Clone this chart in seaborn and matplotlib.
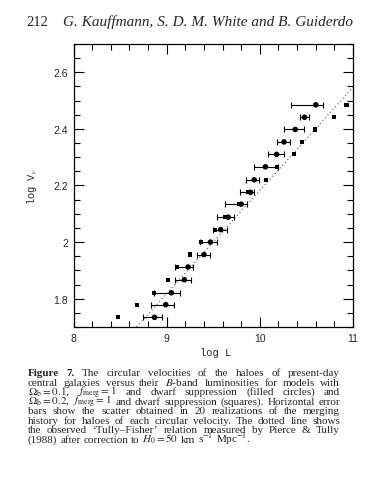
import numpy as np
import matplotlib
matplotlib.use("Agg")
import matplotlib.pyplot as plt
from matplotlib.transforms import IdentityTransform
from matplotlib.ticker import MultipleLocator, FuncFormatter
import seaborn as sns
import pandas as pd

# ---------------- data ----------------
log_vc = [1.734, 1.779, 1.821, 1.867, 1.912, 1.956, 2.000, 2.044, 2.088,
          2.134, 2.176, 2.220, 2.266, 2.310, 2.354, 2.398, 2.441, 2.485]
# filled circles: Omega_b = 0.1
circ_logL = [8.87, 8.99, 9.05, 9.19, 9.23, 9.40, 9.47, 9.58, 9.66,
             9.80, 9.90, 9.94, 10.06, 10.18, 10.26, 10.38, 10.48, 10.60]
circ_lo = [8.75, 8.83, 8.86, 9.09, 9.09, 9.33, 9.36, 9.50, 9.54,
           9.63, 9.79, 9.85, 9.94, 10.09, 10.18, 10.26, 10.43, 10.33]
circ_hi = [8.95, 9.08, 9.14, 9.26, 9.28, 9.46, 9.54, 9.65, 9.72,
           9.86, 9.94, 9.99, 10.20, 10.26, 10.32, 10.47, 10.53, 10.68]
# squares: Omega_b = 0.2
sq_logL = [8.48, 8.68, 8.86, 9.01, 9.11, 9.25, 9.37, 9.52, 9.63,
           9.78, 9.87, 10.07, 10.18, 10.37, 10.45, 10.59, 10.80, 10.93]
# Tully-Fisher relation (dotted line) end points
tf_logL = [8.677, 11.0]
tf_logV = [1.700, 2.547]

x_ticks = [8, 9, 10, 11]
y_ticks = [1.8, 2.0, 2.2, 2.4, 2.6]

# ---------------- style ----------------
sns.set_style("ticks")
plt.rcParams['font.family'] = ['Liberation Serif', 'DejaVu Serif']
plt.rcParams['mathtext.fontset'] = 'stix'

W, H = 367, 489
fig = plt.figure(figsize=(W / 100, H / 100), dpi=100)
fig.patch.set_facecolor('white')

ax_l, ax_r, ax_t, ax_b = 73.5, 353.0, 45.0, 328.0
ax = fig.add_axes([ax_l / W, 1 - ax_b / H, (ax_r - ax_l) / W, (ax_b - ax_t) / H])
ax.set_facecolor('white')

df_c = pd.DataFrame({'logL': circ_logL, 'logV': log_vc})
df_s = pd.DataFrame({'logL': sq_logL, 'logV': log_vc})
df_tf = pd.DataFrame({'logL': tf_logL, 'logV': tf_logV})

sns.lineplot(data=df_tf, x='logL', y='logV', ax=ax, color='0.45',
             linestyle=(0, (1, 2)), linewidth=0.9, sort=False)
cl = np.array(circ_logL)
ax.errorbar(cl, log_vc, xerr=[cl - np.array(circ_lo), np.array(circ_hi) - cl],
            fmt='none', ecolor='black', elinewidth=0.8, capsize=2.4,
            capthick=0.8, zorder=3)
sns.scatterplot(data=df_c, x='logL', y='logV', ax=ax, marker='o', s=16,
                color='black', edgecolor='none', zorder=4)
sns.scatterplot(data=df_s, x='logL', y='logV', ax=ax, marker='s', s=9,
                color='black', edgecolor='none', zorder=4)

ax.set_xlim(8, 11)
ax.set_ylim(1.7, 2.7)
ax.set_xticks(x_ticks)
ax.set_yticks(y_ticks)
ax.xaxis.set_minor_locator(MultipleLocator(0.2))
ax.yaxis.set_minor_locator(MultipleLocator(0.05))
ax.xaxis.set_major_formatter(FuncFormatter(lambda v, p: '%g' % v))
ax.yaxis.set_major_formatter(FuncFormatter(lambda v, p: '%g' % v))
ax.tick_params(which='both', direction='in', top=True, right=True,
               color='black', width=0.8)
ax.tick_params(which='major', length=7.5, pad=4)
ax.tick_params(which='minor', length=4)
for lab in ax.get_xticklabels() + ax.get_yticklabels():
    lab.set_family(['Liberation Sans', 'DejaVu Sans'])
    lab.set_fontsize(7.5)
for s in ax.spines.values():
    s.set_color('black')
    s.set_linewidth(0.9)

ax.set_xlabel('log L', family=['Liberation Mono', 'DejaVu Sans Mono'], fontsize=7.5)
ax.set_ylabel('log V$_{\\mathrm{c}}$', family=['Liberation Mono', 'DejaVu Sans Mono'], fontsize=7.5)
ax.xaxis.set_label_coords(0.51, -0.09)
ax.xaxis.label.set_verticalalignment('center')
ax.yaxis.set_label_coords(-0.15, 0.5)
ax.yaxis.label.set_verticalalignment('center')

# ---------------- header ----------------
ident = IdentityTransform()
fig.text(26, H - 26, '212', transform=ident, fontsize=10.5,
         family='Liberation Serif', va='baseline', ha='left')
fig.text(63, H - 26, 'G. Kauffmann, S. D. M. White and B. Guiderdo',
         transform=ident, fontsize=11.0, family='Liberation Serif',
         style='italic', va='baseline', ha='left')

# ---------------- caption (justified) ----------------
caption_lines = [
    "Figure 7. The circular velocities of the haloes of present-day",
    "central galaxies versus their $B$-band luminosities for models with",
    "$\\Omega_{\\mathrm{b}}=0.1$, $f_{\\mathrm{merg}}=1$ and dwarf suppression (filled circles) and",
    "$\\Omega_{\\mathrm{b}}=0.2$, $f_{\\mathrm{merg}}=1$ and dwarf suppression (squares). Horizontal error",
    "bars show the scatter obtained in 20 realizations of the merging",
    "history for haloes of each circular velocity. The dotted line shows",
    "the observed \u2018Tully\u2013Fisher\u2019 relation measured by Pierce & Tully",
    "(1988) after correction to $H_0=50$ km s$^{-1}$ Mpc$^{-1}$.",
]
cap_x0, cap_x1 = 28.0, 340.0
cap_y0, cap_dy = 376.0, 9.55
cap_size = 8.0
renderer = fig.canvas.get_renderer()
for i, line in enumerate(caption_lines):
    words = line.split(' ')
    ypix = H - (cap_y0 + i * cap_dy)
    objs = []
    for j, w in enumerate(words):
        bold = (i == 0 and j < 2)
        t = fig.text(0, ypix, w, transform=ident, fontsize=cap_size,
                     family='Liberation Serif', weight='bold' if bold else 'normal',
                     va='baseline', ha='left')
        objs.append(t)
    widths = [t.get_window_extent(renderer).width for t in objs]
    last = (i == len(caption_lines) - 1)
    if last or len(objs) < 2:
        gap = cap_size * 0.25 * 100 / 72
    else:
        gap = (cap_x1 - cap_x0 - sum(widths)) / (len(objs) - 1)
    x = cap_x0
    for t, wd in zip(objs, widths):
        t.set_x(x)
        x += wd + gap

fig.savefig('out.png', dpi=100, facecolor='white')
